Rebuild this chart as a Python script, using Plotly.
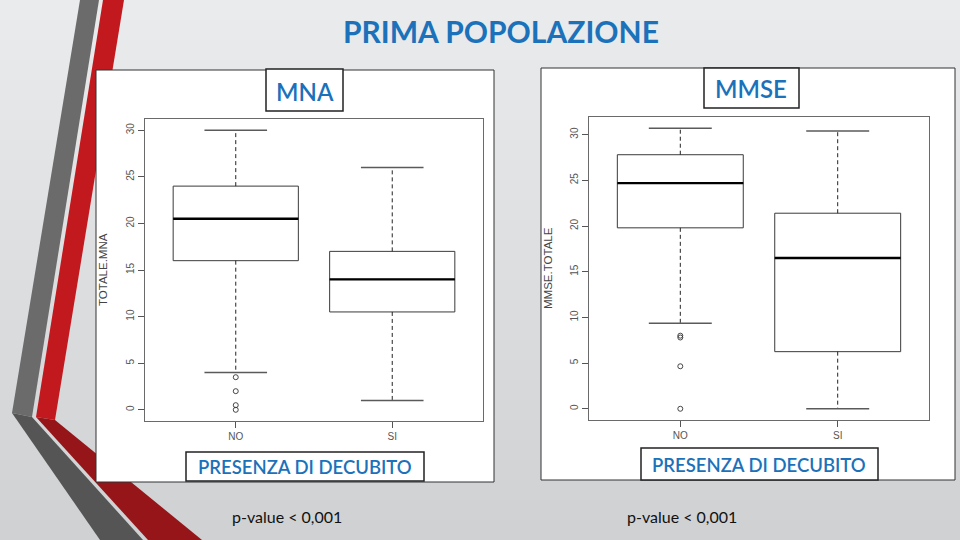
import plotly.graph_objects as go

# ---------------- data ----------------
groups = ["NO", "SI"]
positions = [1, 2]

mna_q1 = [16.0, 10.5]
mna_median = [20.5, 14.0]
mna_q3 = [24.0, 17.0]
mna_low_whisker = [4.0, 1.0]
mna_high_whisker = [30.0, 26.0]
mna_outliers_no = [3.5, 2.0, 0.5, 0.0]
mna_outliers_si = []

mmse_q1 = [19.8, 6.25]
mmse_median = [24.7, 16.5]
mmse_q3 = [27.8, 21.4]
mmse_low_whisker = [9.35, 0.0]
mmse_high_whisker = [30.7, 30.4]
mmse_outliers_no = [8.0, 7.8, 4.65, 0.0]
mmse_outliers_si = []

y_ticks = [0, 5, 10, 15, 20, 25, 30]

W, H = 960, 540
BLUE = "#1b72ba"


def px(x):
    return x / W


def py(y):
    return 1 - y / H


fig = go.Figure()


def add_boxplot(xa, ya, q1, med, q3, lw, hw, out_no, out_si):
    fig.add_trace(go.Box(
        x=positions, q1=q1, median=med, q3=q3,
        lowerfence=q1, upperfence=q3, width=0.8,
        fillcolor="white", line=dict(color="#3a3a3a", width=1),
        whiskerwidth=0, boxpoints=False, showlegend=False,
        xaxis=xa, yaxis=ya, hoverinfo="skip"))
    wx, wy, cx, cy, mx, my = [], [], [], [], [], []
    for p, a, b, c, d, m in zip(positions, q1, q3, lw, hw, med):
        wx += [p, p, None, p, p, None]
        wy += [b, d, None, a, c, None]
        cx += [p - 0.2, p + 0.2, None, p - 0.2, p + 0.2, None]
        cy += [d, d, None, c, c, None]
        mx += [p - 0.4, p + 0.4, None]
        my += [m, m, None]
    fig.add_trace(go.Scatter(x=wx, y=wy, mode="lines", showlegend=False,
                             line=dict(color="#222", width=1, dash="4px,3px"),
                             xaxis=xa, yaxis=ya, hoverinfo="skip"))
    fig.add_trace(go.Scatter(x=cx, y=cy, mode="lines", showlegend=False,
                             line=dict(color="#5a5a5a", width=1.5),
                             xaxis=xa, yaxis=ya, hoverinfo="skip"))
    fig.add_trace(go.Scatter(x=mx, y=my, mode="lines", showlegend=False,
                             line=dict(color="#000", width=2.3),
                             xaxis=xa, yaxis=ya, hoverinfo="skip"))
    ox = [positions[0]] * len(out_no) + [positions[1]] * len(out_si)
    oy = list(out_no) + list(out_si)
    fig.add_trace(go.Scatter(x=ox, y=oy, mode="markers", showlegend=False,
                             marker=dict(symbol="circle-open", size=5,
                                         color="#333", line=dict(width=0.9)),
                             xaxis=xa, yaxis=ya, hoverinfo="skip"))


add_boxplot("x", "y", mna_q1, mna_median, mna_q3, mna_low_whisker,
            mna_high_whisker, mna_outliers_no, mna_outliers_si)
add_boxplot("x2", "y2", mmse_q1, mmse_median, mmse_q3, mmse_low_whisker,
            mmse_high_whisker, mmse_outliers_no, mmse_outliers_si)


def yrange(*arrs):
    vals = [v for a in arrs for v in a]
    lo, hi = min(vals), max(vals)
    pad = (hi - lo) * 0.04
    return [lo - pad, hi + pad]


xr = [0.5 - 0.08, 2.5 + 0.08]

axis_common = dict(showgrid=False, zeroline=False, showline=True, mirror=True,
                   linecolor="#6a6a6a", linewidth=1, ticks="outside",
                   ticklen=6, tickcolor="#555",
                   tickfont=dict(family="Liberation Sans", size=10, color="#555"))

fig.update_layout(
    width=W, height=H, margin=dict(l=0, r=0, t=0, b=0),
    paper_bgcolor="#dcdedf", plot_bgcolor="white",
    xaxis=dict(domain=[px(145), px(483)], range=xr, tickvals=positions,
               ticktext=groups, anchor="y", **axis_common),
    yaxis=dict(domain=[py(421), py(119)],
               range=yrange(mna_low_whisker, mna_high_whisker, mna_outliers_no),
               tickvals=y_ticks, tickangle=-90, anchor="x", **axis_common),
    xaxis2=dict(domain=[px(589), px(929)], range=xr, tickvals=positions,
                ticktext=groups, anchor="y2", **axis_common),
    yaxis2=dict(domain=[py(420), py(117)],
                range=yrange(mmse_low_whisker, mmse_high_whisker, mmse_outliers_no),
                tickvals=y_ticks, tickangle=-90, anchor="x2", **axis_common),
)

shapes = []
# background gradient bands
top_c = (0xea, 0xeb, 0xec)
bot_c = (0xcf, 0xd1, 0xd3)
n = 27
for i in range(n):
    t = i / (n - 1)
    c = tuple(round(top_c[k] + (bot_c[k] - top_c[k]) * t) for k in range(3))
    shapes.append(dict(type="rect", xref="paper", yref="paper", layer="below",
                       x0=0, x1=1, y0=py((i + 1) * 20), y1=py(i * 20),
                       line=dict(width=0), fillcolor="rgb(%d,%d,%d)" % c))


def poly(pts, color):
    d = "M " + " L ".join("%f,%f" % (px(a), py(b)) for a, b in pts) + " Z"
    return dict(type="path", xref="paper", yref="paper", layer="below", path=d,
                line=dict(width=0), fillcolor=color)


shapes.append(poly([(80, 0), (99, 0), (32, 417), (12, 413)], "#6b6b6b"))
shapes.append(poly([(12, 413), (32, 417), (143, 540), (100, 540)], "#555555"))
shapes.append(poly([(103, 0), (124, 0), (55, 420), (36, 417)], "#c2191f"))
shapes.append(poly([(36, 417), (55, 420), (202, 540), (148, 540)], "#951518"))


def rect(x0, y0, x1, y1, lw=1, lc="#333"):
    return dict(type="rect", xref="paper", yref="paper", layer="below",
                x0=px(x0), x1=px(x1), y0=py(y1), y1=py(y0),
                line=dict(width=lw, color=lc), fillcolor="white")


shapes.append(rect(96, 70, 494, 482))
shapes.append(rect(541, 68, 955, 480))
fig.update_layout(shapes=shapes)

# label boxes above plots
label_boxes = [rect(266, 69, 343, 111, 1.5, "#222"), rect(704, 68, 799, 108, 1.5, "#222"),
               rect(186, 452, 424, 481, 1.5, "#222"), rect(641, 448, 878, 480, 1.5, "#222")]
for s in label_boxes:
    s["layer"] = "above"
    fig.add_shape(**s)

ann = []


def text(x, y, s, size, color, family="Lato", angle=0, weight="normal"):
    ann.append(dict(x=px(x), y=py(y), xref="paper", yref="paper", text=s,
                    showarrow=False, xanchor="center", yanchor="middle",
                    textangle=angle,
                    font=dict(family=family, size=size, color=color, weight=weight)))


text(501, 31, "PRIMA POPOLAZIONE", 30, BLUE, weight="bold")
text(305, 91, "MNA", 24, BLUE, weight=600)
text(751, 89, "MMSE", 24, BLUE, weight=600)
text(305, 467, "PRESENZA DI DECUBITO", 18.5, BLUE, weight=600)
text(759, 465, "PRESENZA DI DECUBITO", 18.5, BLUE, weight=600)
text(287, 516, "p-value &lt; 0,001", 16, "#111")
text(682, 516, "p-value &lt; 0,001", 16, "#111")
text(103, 270, "TOTALE.MNA", 11.5, "#444", "Liberation Sans", -90)
text(548, 268, "MMSE.TOTALE", 11.5, "#444", "Liberation Sans", -90)
fig.update_layout(annotations=ann)

fig.write_html("out.html", config={"displayModeBar": False},
               post_script="document.body.style.margin='0';")
